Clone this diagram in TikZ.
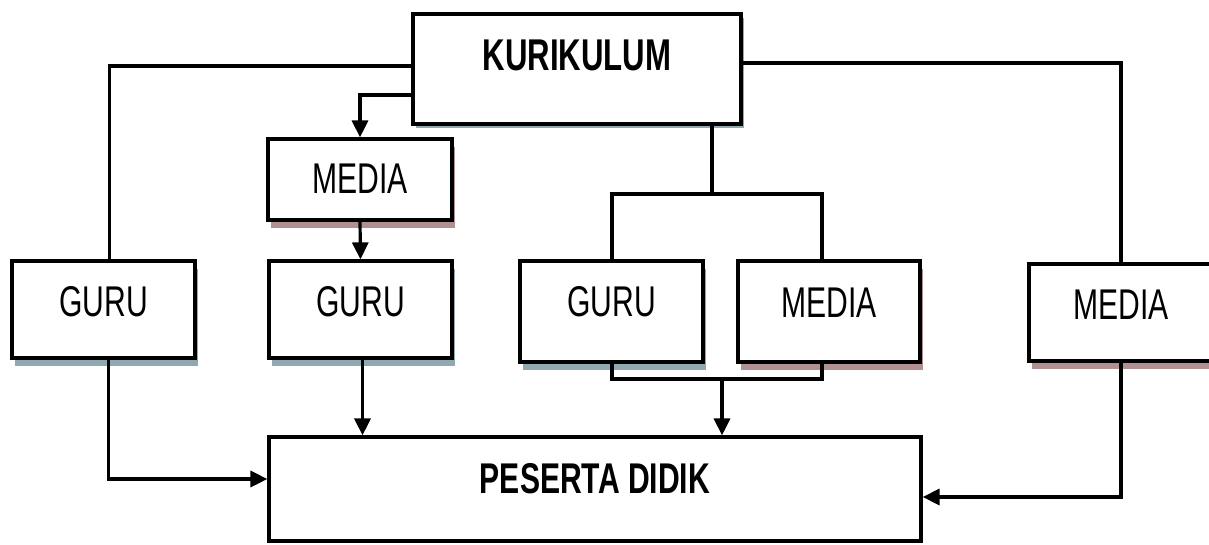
\documentclass[tikz,border=0pt]{standalone}
\usepackage{fontspec}
\setmainfont[FakeStretch=0.7]{Liberation Sans}
\usetikzlibrary{arrows.meta,shadows}
\definecolor{shblue}{HTML}{90A8B0}
\definecolor{shrose}{HTML}{B09090}
\tikzset{
  box/.style={draw=black,line width=3.2pt,fill=white,inner sep=0pt,
    font=\fontsize{43}{43}\selectfont,text height=31pt},
  bshadow/.style={drop shadow={shadow xshift=3pt,shadow yshift=-8pt,fill=shblue,opacity=1}},
  rshadow/.style={drop shadow={shadow xshift=3pt,shadow yshift=-8pt,fill=shrose,opacity=1}},
  conn/.style={line width=3.2pt,line join=miter},
  arr/.style={conn,-{Triangle[width=16pt,length=17pt]}},
}
\begin{document}
\begin{tikzpicture}[x=1pt,y=1pt]
\useasboundingbox (0,0) rectangle (1209,-545);
\clip (0,0) rectangle (1209,-545);
\fill[white] (0,0) rectangle (1209,-545);
% boxes
\node[box,drop shadow={shadow xshift=3pt,shadow yshift=-4pt,fill=shblue,opacity=1},
  minimum width=328pt,minimum height=110pt,text depth=28pt,
  font=\fontsize{44.5}{44.5}\bfseries\selectfont,text height=32pt] (kur) at (577,-69) {KURIKULUM};
\node[box,rshadow,minimum width=184pt,minimum height=81pt,text depth=0pt,text height=29pt] (m1) at (360,-179.5) {MEDIA};
\node[box,bshadow,minimum width=183pt,minimum height=97pt,text depth=17pt] (g1) at (103.5,-309.5) {GURU};
\node[box,bshadow,minimum width=183pt,minimum height=97pt,text depth=17pt] (g2) at (360.5,-309.5) {GURU};
\node[box,bshadow,minimum width=183pt,minimum height=101pt,text depth=21pt] (g3) at (611.5,-311.5) {GURU};
\node[box,rshadow,minimum width=182pt,minimum height=101pt,text depth=20pt] (m3) at (829,-311.5) {MEDIA};
\node[box,rshadow,minimum width=184pt,minimum height=97pt,text depth=17pt] (m4) at (1121,-312.5) {MEDIA};
\node[box,drop shadow={shadow xshift=2pt,shadow yshift=-2pt,fill=shblue,opacity=1},
  minimum width=652pt,minimum height=104pt,text depth=23pt,
  font=\fontsize{43}{43}\bfseries\selectfont] (pes) at (595,-489) {PESERTA DIDIK};
% helper coordinates for the bracket
\coordinate (btop) at (712,-194);
\coordinate (bbot) at (722,-379);
\coordinate (m3n) at ([xshift=-7pt]m3.north);
\coordinate (m3s) at ([xshift=-7pt]m3.south);
% connectors
\draw[conn] ([yshift=3pt]kur.west) -| ([xshift=6pt]g1.north);
\draw[conn] ([yshift=6pt]kur.east) -| (m4.north);
\draw[arr] ([yshift=-26pt]kur.west) -| (m1.north);
\draw[arr] (m1.south) -- (g2.north);
\draw[arr] ([xshift=2pt]g2.south) -- ([xshift=2pt]g2.south |- pes.north);
\draw[arr] ([xshift=5pt]g1.south) |- ([yshift=10pt]pes.west);
\draw[arr] (m4.south) |- ([yshift=-8pt]pes.east);
\draw[conn] (kur.south -| btop) -- (btop);
\draw[line width=4pt] (g3.north) |- (btop -| m3n) -- (m3n);
\draw[line width=4pt] (g3.south) |- (bbot -| m3s) -- (m3s);
\draw[arr] (bbot) -- (bbot |- pes.north);
\end{tikzpicture}
\end{document}
